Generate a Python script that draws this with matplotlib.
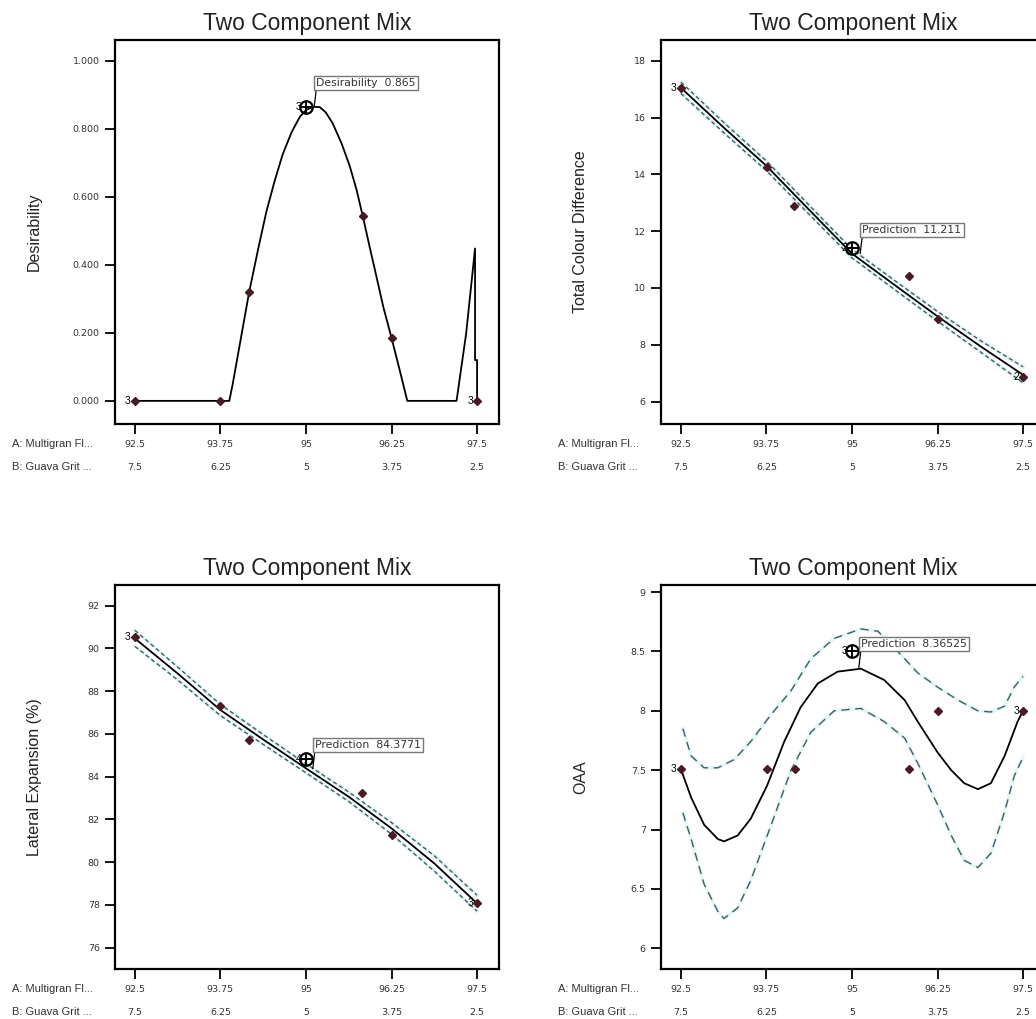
import matplotlib
matplotlib.use('Agg')
import matplotlib.pyplot as plt

plt.rcParams['font.family'] = ['Liberation Sans', 'DejaVu Sans']

# x axis (component A, B is 100 - A)
a_ticks = [92.5, 93.75, 95, 96.25, 97.5]
a_labels = ['92.5', '93.75', '95', '96.25', '97.5']
b_labels = ['7.5', '6.25', '5', '3.75', '2.5']
row_a = 'A: Multigran Fl...'
row_b = 'B: Guava Grit ...'

# --- Desirability
des_x = [92.5, 93.88, 93.93, 94.17, 94.30, 94.42, 94.54, 94.66, 94.79, 94.91, 95.0, 95.10,
         95.20, 95.29, 95.39, 95.52, 95.64, 95.74, 95.83, 95.93, 96.03, 96.13, 96.25,
         96.37, 96.48, 97.20, 97.34, 97.47, 97.47, 97.5, 97.5]
des_y = [0, 0, 0.05, 0.32, 0.445, 0.555, 0.645, 0.725, 0.79, 0.835, 0.855, 0.864,
         0.864, 0.848, 0.816, 0.757, 0.69, 0.62, 0.543, 0.453, 0.365, 0.276, 0.185,
         0.09, 0, 0, 0.198, 0.448, 0.12, 0.12, 0]
des_pts_x = [92.5, 93.75, 94.17, 95.84, 96.26, 97.5]
des_pts_y = [0, 0, 0.32, 0.543, 0.185, 0]
des_yticks = [0, 0.2, 0.4, 0.6, 0.8, 1.0]

# --- Total Colour Difference
tcd_x = [92.5, 93.125, 93.75, 94.375, 95, 95.625, 96.25, 96.875, 97.5]
tcd_y = [17.05, 15.65, 14.3, 12.75, 11.21, 10.1, 9.0, 7.95, 6.94]
tcd_hi = [17.25, 15.83, 14.47, 12.91, 11.36, 10.26, 9.17, 8.15, 7.22]
tcd_lo = [16.85, 15.47, 14.13, 12.59, 11.06, 9.94, 8.83, 7.75, 6.66]
tcd_pts_x = [92.5, 93.76, 94.16, 95.84, 96.25, 97.5]
tcd_pts_y = [17.05, 14.27, 12.89, 10.42, 8.90, 6.86]
tcd_yticks = [6, 8, 10, 12, 14, 16, 18]

# --- Lateral Expansion
le_x = [92.5, 93.125, 93.75, 94.375, 95, 95.625, 96.25, 96.875, 97.5]
le_y = [90.47, 88.83, 87.12, 85.74, 84.39, 83.06, 81.58, 79.94, 78.07]
le_hi = [90.85, 89.13, 87.38, 85.97, 84.6, 83.28, 81.85, 80.3, 78.45]
le_lo = [90.1, 88.53, 86.86, 85.51, 84.18, 82.84, 81.31, 79.58, 77.7]
le_pts_x = [92.5, 93.74, 94.17, 95.82, 96.25, 97.5]
le_pts_y = [90.55, 87.30, 85.71, 83.25, 81.27, 78.07]
le_yticks = [76, 78, 80, 82, 84, 86, 88, 90, 92]

# --- OAA
oaa_x = [92.5, 92.65, 92.84, 93.04, 93.13, 93.33, 93.52, 93.76, 94.01, 94.25, 94.5,
         94.79, 95.13, 95.47, 95.77, 95.96, 96.25, 96.45, 96.64, 96.84, 97.03, 97.23,
         97.42, 97.5]
oaa_y = [7.51, 7.27, 7.04, 6.92, 6.90, 6.95, 7.09, 7.37, 7.74, 8.03, 8.23,
         8.33, 8.355, 8.26, 8.09, 7.91, 7.65, 7.50, 7.39, 7.34, 7.39, 7.62,
         7.91, 8.0]
oaa_hi_x = [92.53, 92.65, 92.84, 93.04, 93.28, 93.52, 93.82, 94.11, 94.4, 94.74, 95.13,
            95.38, 95.67, 95.96, 96.25, 96.55, 96.84, 97.03, 97.23, 97.37, 97.5]
oaa_hi_y = [7.85, 7.62, 7.52, 7.52, 7.59, 7.74, 7.97, 8.17, 8.44, 8.61, 8.69,
            8.67, 8.5, 8.32, 8.2, 8.09, 8.0, 7.99, 8.04, 8.2, 8.29]
oaa_lo_x = [92.53, 92.65, 92.84, 93.04, 93.13, 93.33, 93.52, 93.82, 94.11, 94.4, 94.74,
            95.13, 95.47, 95.77, 95.96, 96.25, 96.45, 96.64, 96.84, 97.03, 97.23, 97.37,
            97.5]
oaa_lo_y = [7.14, 6.92, 6.54, 6.31, 6.25, 6.34, 6.57, 7.04, 7.5, 7.82, 8.0,
            8.02, 7.91, 7.77, 7.56, 7.21, 6.95, 6.74, 6.68, 6.8, 7.15, 7.45,
            7.61]
oaa_pts_x = [92.5, 93.76, 94.17, 95.84, 96.25, 97.5]
oaa_pts_y = [7.51, 7.51, 7.51, 7.51, 8.0, 8.0]
oaa_yticks = [6, 6.5, 7, 7.5, 8, 8.5, 9]

PT = '#4a1a24'
DASH = '#3f5f60'
NUM = dict(family='DejaVu Sans', fontsize=6.8, color='#333333')


def panel(ax, ylabel, ylim, yticks, yfmt, cx, cy, px, py, design, reps, note,
          hi=None, lo=None, dash=(0, (3, 2))):
    ax.set_xlim(92.21, 97.82)
    ax.set_ylim(*ylim)
    ax.set_title('Two Component Mix', fontsize=16.5, pad=7, color='#222222')
    ax.set_ylabel(ylabel, fontsize=11.5, color='#222222')
    ax.yaxis.set_label_coords(-0.19, 0.5)
    for s in ax.spines.values():
        s.set_linewidth(1.6)
    ax.set_yticks(yticks)
    ax.set_yticklabels([yfmt.format(v) for v in yticks])
    for lab in ax.get_yticklabels():
        lab.set_fontfamily('DejaVu Sans')
        lab.set_fontsize(6.8)
        lab.set_color('#333333')
    ax.set_xticks(a_ticks)
    ax.set_xticklabels([])
    ax.tick_params(direction='out', length=7, width=1.3, pad=4)
    tr = ax.get_xaxis_transform()
    for x, la, lb in zip(a_ticks, a_labels, b_labels):
        ax.text(x, -0.053, la, transform=tr, ha='center', va='center', **NUM)
        ax.text(x, -0.112, lb, transform=tr, ha='center', va='center', **NUM)
    ax.text(-0.268, -0.053, row_a, transform=ax.transAxes, ha='left', va='center', fontsize=8, color='#333333')
    ax.text(-0.268, -0.112, row_b, transform=ax.transAxes, ha='left', va='center', fontsize=8, color='#333333')

    if hi is not None:
        for xs, ys in (hi, lo):
            ax.plot(xs, ys, color='#e3f6f6', lw=2.5, zorder=1)
            ax.plot(xs, ys, color=DASH, lw=1.0, ls=dash, zorder=2)
    ax.plot(cx, cy, color='black', lw=1.3, zorder=3)
    ax.plot(px, py, ls='none', marker='D', ms=4, color=PT, zorder=4)

    # design point with replicate count
    dx, dy = design
    ax.plot([dx], [dy], marker='o', ms=9, mfc='none', mec='black', mew=1.6, zorder=5)
    ax.plot([dx], [dy], marker='+', ms=9, color='black', mew=1.4, zorder=5)
    for (rx, ry, n) in reps:
        ax.annotate(n, (rx, ry), xytext=(-3, 0), textcoords='offset points',
                    ha='right', va='center', fontsize=7.5, zorder=5)

    nx, ny, txt = note
    ax.annotate(txt, (nx, ny), xytext=(1.6, 13.5), textcoords='offset points',
                ha='left', va='bottom', family='DejaVu Sans', fontsize=7.8, color='#333333', zorder=6,
                bbox=dict(boxstyle='square,pad=0.2', fc='white', ec='#777777', lw=1),
                arrowprops=dict(arrowstyle='-', relpos=(0, 0), shrinkA=0, shrinkB=0,
                                color='black', lw=0.9))


fig = plt.figure(figsize=(10.36, 10.19), dpi=100)
W, H = 384 / 1036, 384 / 1019
ax1 = fig.add_axes([115 / 1036, 1 - 424 / 1019, W, H])
ax2 = fig.add_axes([661 / 1036, 1 - 424 / 1019, W, H])
ax3 = fig.add_axes([115 / 1036, 1 - 969 / 1019, W, H])
ax4 = fig.add_axes([661 / 1036, 1 - 969 / 1019, W, H])

panel(ax1, 'Desirability', (-0.068, 1.061), des_yticks, '{:.3f}',
      des_x, des_y, des_pts_x, des_pts_y, (95.0, 0.865),
      [(92.5, 0, '3'), (95.0, 0.865, '3'), (97.5, 0, '3')],
      (95.12, 0.864, 'Desirability  0.865'))

panel(ax2, 'Total Colour Difference', (5.21, 18.73), tcd_yticks, '{:g}',
      tcd_x, tcd_y, tcd_pts_x, tcd_pts_y, (95.0, 11.40),
      [(92.5, 17.05, '3'), (95.0, 11.40, '2'), (97.5, 6.86, '2')],
      (95.12, 11.21, 'Prediction  11.211'), (tcd_x, tcd_hi), (tcd_x, tcd_lo))

panel(ax3, 'Lateral Expansion (%)', (75.0, 92.97), le_yticks, '{:g}',
      le_x, le_y, le_pts_x, le_pts_y, (95.0, 84.81),
      [(92.5, 90.55, '3'), (95.0, 84.81, '4'), (97.5, 78.07, '3')],
      (95.1, 84.377, 'Prediction  84.3771'), (le_x, le_hi), (le_x, le_lo))

panel(ax4, 'OAA', (5.825, 9.06), oaa_yticks, '{:g}',
      oaa_x, oaa_y, oaa_pts_x, oaa_pts_y, (95.0, 8.50),
      [(92.5, 7.51, '3'), (95.0, 8.50, '3'), (97.5, 8.0, '3')],
      (95.1, 8.365, 'Prediction  8.36525'), (oaa_hi_x, oaa_hi_y), (oaa_lo_x, oaa_lo_y),
      dash=(0, (6, 4)))

fig.savefig('out.png', dpi=100)
